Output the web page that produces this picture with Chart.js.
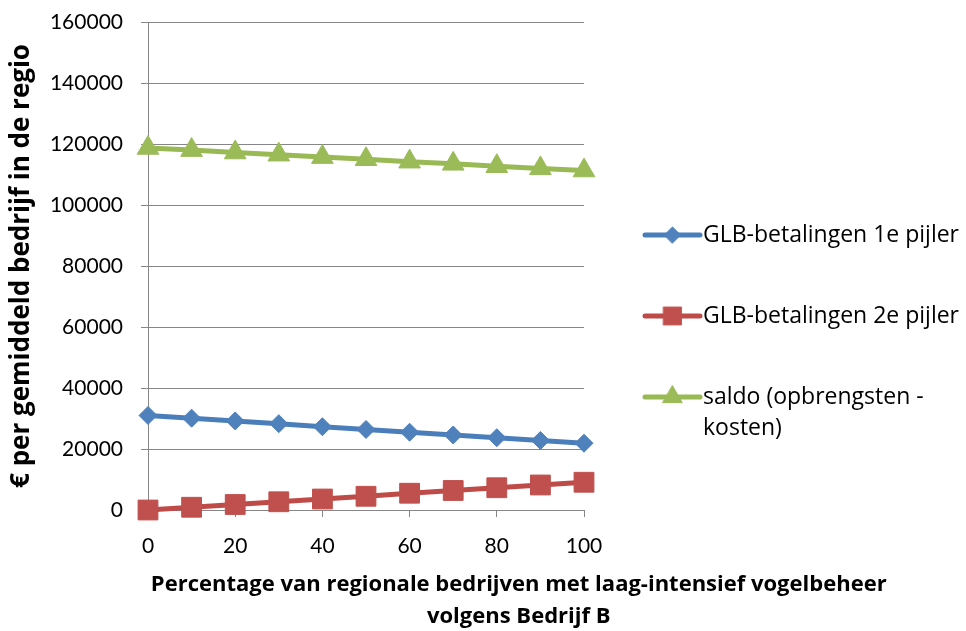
<!DOCTYPE html>
<html>
<head>
<meta charset="utf-8">
<script src="https://cdn.jsdelivr.net/npm/chart.js@4.4.1/dist/chart.umd.min.js"></script>
<style>
  html, body { margin: 0; padding: 0; background: #fff; }
  #wrap { width: 966px; height: 631px; }
</style>
</head>
<body>
<div id="wrap"><canvas id="chart"></canvas></div>
<script>
/* ---------- data ---------- */
const percentages = [0, 10, 20, 30, 40, 50, 60, 70, 80, 90, 100];
const pijler1 = [31000, 30100, 29200, 28300, 27300, 26400, 25500, 24600, 23700, 22800, 21900];
const pijler2 = [0, 900, 1800, 2700, 3600, 4500, 5500, 6400, 7300, 8200, 9100];
const saldo = [118700, 118000, 117200, 116500, 115700, 115000, 114200, 113500, 112700, 112000, 111300];
const seriesNames = ["GLB-betalingen 1e pijler", "GLB-betalingen 2e pijler", "saldo (opbrengsten - kosten)"];
const yTitle = "€ per gemiddeld bedrijf in de regio";
const xTitle = ["Percentage van regionale bedrijven met laag-intensief vogelbeheer", "volgens Bedrijf B"];

const FONT = "Lato, 'Open Sans', sans-serif";
const TEXTFONT = "'Open Sans', Lato, sans-serif";
const gridColor = "#868686";

const toPoints = (vals) => vals.map((v, i) => ({ x: percentages[i], y: v }));

/* ---------- x axis title (centred under whole figure) ---------- */
const bottomTitle = {
  id: "bottomTitle",
  afterDraw(chart) {
    const ctx = chart.ctx;
    ctx.save();
    ctx.font = "bold 22px " + TEXTFONT;
    ctx.fillStyle = "#000";
    ctx.textAlign = "center";
    ctx.textBaseline = "middle";
    const cx = chart.width * 0.537;
    xTitle.forEach((line, i) => ctx.fillText(line, cx, chart.chartArea.bottom + 75 + i * 32));
    ctx.restore();
  }
};

/* ---------- legend on the right: line + marker + wrapped text ---------- */
const sideLegend = {
  id: "sideLegend",
  afterDraw(chart) {
    const ctx = chart.ctx;
    const x0 = chart.chartArea.right + 61;
    const x1 = x0 + 55;
    const tx = x1 + 3;
    const maxW = chart.width - tx - 1;
    ctx.save();
    ctx.font = "23px " + TEXTFONT;
    chart.data.datasets.forEach((ds, i) => {
      const y = 235 + i * 81;
      ctx.strokeStyle = ds.borderColor;
      ctx.lineWidth = 5;
      ctx.lineCap = "round";
      ctx.beginPath();
      ctx.moveTo(x0, y);
      ctx.lineTo(x1, y);
      ctx.stroke();
      ctx.fillStyle = ds.pointBackgroundColor;
      ctx.strokeStyle = ds.pointBackgroundColor;
      ctx.lineWidth = 1;
      Chart.helpers.drawPoint(ctx, {
        pointStyle: ds.pointStyle,
        radius: ds.pointRadius * 0.9,
        rotation: 0,
        borderWidth: 1
      }, (x0 + x1) / 2, y);
      // text with word wrap
      const words = ds.label.split(" ");
      const lines = [];
      let cur = "";
      words.forEach(w => {
        const t = cur ? cur + " " + w : w;
        if (ctx.measureText(t).width > maxW && cur) { lines.push(cur); cur = w; }
        else cur = t;
      });
      lines.push(cur);
      ctx.fillStyle = "#000";
      ctx.textAlign = "left";
      ctx.textBaseline = "middle";
      lines.forEach((l, k) => ctx.fillText(l, tx, y + k * 31));
    });
    ctx.restore();
  }
};

new Chart(document.getElementById("chart"), {
  type: "line",
  plugins: [bottomTitle, sideLegend],
  data: {
    datasets: [
      {
        label: seriesNames[0],
        data: toPoints(pijler1),
        borderColor: "#4A7EBB",
        pointBackgroundColor: "#4F81BD",
        pointBorderColor: "#4F81BD",
        pointStyle: "rectRot",
        pointRadius: 9
      },
      {
        label: seriesNames[1],
        data: toPoints(pijler2),
        borderColor: "#BE4B48",
        pointBackgroundColor: "#C0504D",
        pointBorderColor: "#C0504D",
        pointStyle: "rect",
        pointRadius: 14
      },
      {
        label: seriesNames[2],
        data: toPoints(saldo),
        borderColor: "#98B954",
        pointBackgroundColor: "#9BBB59",
        pointBorderColor: "#9BBB59",
        pointStyle: "triangle",
        pointRadius: 12.5
      }
    ]
  },
  options: {
    responsive: true,
    maintainAspectRatio: false,
    animation: false,
    layout: { padding: { left: 0, right: 382, top: 22, bottom: 0 } },
    elements: {
      line: { borderWidth: 5, tension: 0 },
      point: { borderWidth: 1, hoverRadius: 9 }
    },
    datasets: { line: { clip: false } },
    plugins: {
      legend: { display: false },
      tooltip: { enabled: false }
    },
    scales: {
      x: {
        type: "linear",
        min: 0,
        max: 100,
        ticks: { stepSize: 20, color: "#000", font: { family: FONT, size: 21 }, padding: 17, maxRotation: 0 },
        grid: { drawOnChartArea: false, color: gridColor, tickLength: 7 },
        border: { color: gridColor },
        afterFit: (s) => { s.height = 121; s.paddingLeft = 0; s.paddingRight = 0; }
      },
      y: {
        min: 0,
        max: 160000,
        ticks: {
          stepSize: 20000,
          color: "#000",
          font: { family: FONT, size: 21 },
          padding: 18,
          callback: (v) => String(v)
        },
        grid: { color: gridColor, tickLength: 7 },
        border: { color: gridColor },
        title: {
          display: true,
          text: yTitle,
          color: "#000",
          font: { family: TEXTFONT, size: 26, weight: "bold" },
          padding: { top: 6, bottom: 0 }
        },
        afterFit: (s) => { s.width = 148; s.paddingTop = 0; s.paddingBottom = 0; }
      }
    }
  }
});
</script>
</body>
</html>
